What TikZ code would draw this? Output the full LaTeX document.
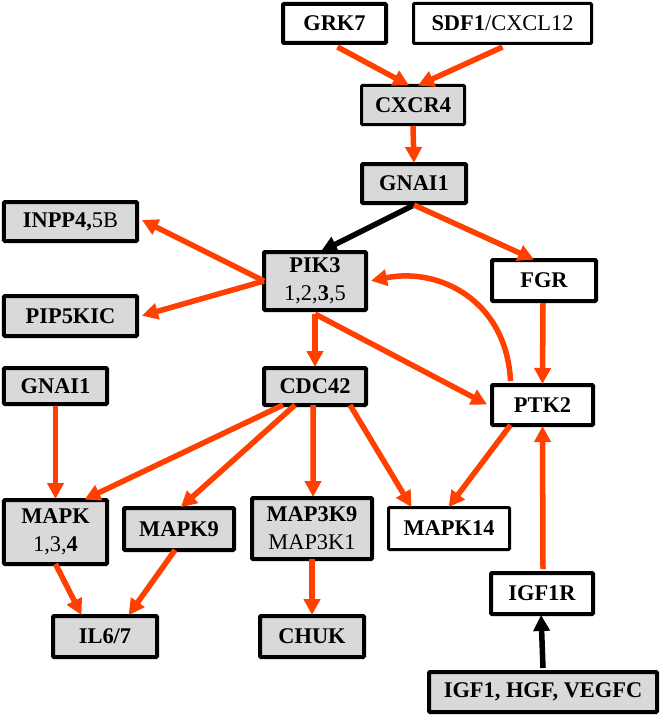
\documentclass[tikz,border=0pt]{standalone}
\usepackage{fontspec}
\setmainfont{Liberation Serif}
\usetikzlibrary{arrows.meta,calc}
\definecolor{arr}{RGB}{255,64,0}
\definecolor{boxgray}{RGB}{217,217,217}
\begin{document}
\begin{tikzpicture}[x=1bp,y=-1bp,
 box/.style={draw=black,line width=4bp,rounded corners=1bp,inner sep=0pt,align=center,font=\fontsize{22.5}{28}\selectfont\bfseries},
 gbox/.style={box,fill=boxgray},
 wbox/.style={box,fill=white},
 thin/.style={line width=3bp},
 ra/.style={draw=arr,line width=5.5bp,-{Triangle[length=16bp,width=16bp]},shorten >=1bp},
 ba/.style={ra,draw=black}]
\useasboundingbox (0,0) rectangle (660,716);
\node[wbox,minimum width=103bp,minimum height=39bp] (grk) at (334.5,23.5) {GRK7};
\node[wbox,thin,minimum width=178bp,minimum height=40bp] (sdf) at (502.5,23.5) {SDF1\textmd{/CXCL12}};
\node[gbox,thin,minimum width=103bp,minimum height=39bp] (cxcr) at (413,105) {CXCR4};
\node[gbox,minimum width=104bp,minimum height=39bp] (gnai) at (414,183.5) {GNAI1};
\node[gbox,minimum width=133bp,minimum height=39bp] (inpp) at (70.5,221.5) {INPP4,\textmd{5B}};
\node[gbox,minimum width=102bp,minimum height=58bp] (pik) at (315,281) {PIK3\\\textmd{1,2,\textbf{3},5}};
\node[wbox,minimum width=104bp,minimum height=41bp] (fgr) at (544,280.5) {FGR};
\node[gbox,minimum width=133bp,minimum height=40bp] (pip) at (70.5,316) {PIP5KIC};
\node[gbox,minimum width=103bp,minimum height=36bp] (gnaib) at (55.5,386) {GNAI1};
\node[gbox,minimum width=102bp,minimum height=37bp] (cdc) at (315,386.5) {CDC42};
\node[wbox,minimum width=101bp,minimum height=40bp] (ptk) at (542.5,405) {PTK2};
\node[gbox,minimum width=103bp,minimum height=64bp] (mapk) at (55.5,532) {MAPK\\\textmd{1,3,\textbf{4}}};
\node[gbox,minimum width=110bp,minimum height=42bp] (mapkn) at (179,529) {MAPK9};
\node[gbox,minimum width=120bp,minimum height=61bp] (mapkkk) at (312,528.5) {MAP3K9\\\textmd{MAP3K1}};
\node[wbox,thin,minimum width=121bp,minimum height=42bp] (mapkf) at (449,528.5) {MAPK14};
\node[gbox,minimum width=104bp,minimum height=41bp] (il) at (105,636.5) {IL6/7};
\node[gbox,minimum width=104bp,minimum height=41bp] (chuk) at (312,636.5) {CHUK};
\node[wbox,minimum width=102bp,minimum height=41bp] (igfr) at (542,593.5) {IGF1R};
\node[gbox,minimum width=228bp,minimum height=40bp] (igf) at (543,692) {IGF1, HGF, VEGFC};
% connectors
\draw[ra] ([xshift=3bp,yshift=-2bp]grk.south) -- ([xshift=-3bp,yshift=-2bp]cxcr.north);
\draw[ra] ([yshift=-2bp]sdf.south) -- ([xshift=4bp,yshift=-2bp]cxcr.north);
\draw[ra] (cxcr.south) -- ([yshift=-2bp]gnai.north);
\draw[ba] (gnai.south) -- ([xshift=5bp,yshift=-2bp]pik.north);
\draw[ra] (gnai.south) -- ([xshift=-9bp,yshift=-2bp]fgr.north);
\draw[ra] ([xshift=2bp]pik.west) -- ([xshift=2bp,yshift=2bp]inpp.east);
\draw[ra] ([xshift=2bp]pik.west) -- ([xshift=2bp]pip.east);
\draw[ra] ([yshift=-2bp]pik.south) -- ([yshift=-2bp]cdc.north);
\draw[ra] ([yshift=-2bp]pik.south) -- ([xshift=-2bp]ptk.west);
\draw[ra] ([xshift=-32bp,yshift=2bp]ptk.north) .. controls ++(-4,-80) and ++(70,-14) .. ([xshift=2bp]pik.east);
\draw[ra] ([xshift=-1bp]fgr.south) -- ([yshift=-2bp]ptk.north);
\draw[ra] (gnaib.south) -- ([yshift=-2bp]mapk.north);
\draw[ra] ([xshift=-32bp,yshift=2bp]cdc.south) -- ([xshift=28bp,yshift=-2bp]mapk.north);
\draw[ra] ([xshift=-20bp,yshift=2bp]cdc.south) -- ([xshift=1bp,yshift=-2bp]mapkn.north);
\draw[ra] ([xshift=-2bp,yshift=2bp]cdc.south) -- ([xshift=1bp,yshift=-2bp]mapkkk.north);
\draw[ra] ([xshift=35bp,yshift=2bp]cdc.south) -- ([xshift=-37bp,yshift=-2bp]mapkf.north);
\draw[ra] ([xshift=-32bp,yshift=2bp]ptk.south) -- ([xshift=-1bp,yshift=-2bp]mapkf.north);
\draw[ra] ([yshift=2bp]mapk.south) -- ([xshift=-23bp,yshift=-2bp]il.north);
\draw[ra] ([xshift=-4bp,yshift=2bp]mapkn.south) -- ([xshift=23bp,yshift=-2bp]il.north);
\draw[ra] ([yshift=2bp]mapkkk.south) -- ([yshift=-2bp]chuk.north);
\draw[ra] ([xshift=1bp,yshift=2bp]igfr.north) -- ([yshift=2bp]ptk.south);
\draw[ba] ([yshift=2bp]igf.north) -- ([xshift=-1bp,yshift=2bp]igfr.south);
\end{tikzpicture}
\end{document}
